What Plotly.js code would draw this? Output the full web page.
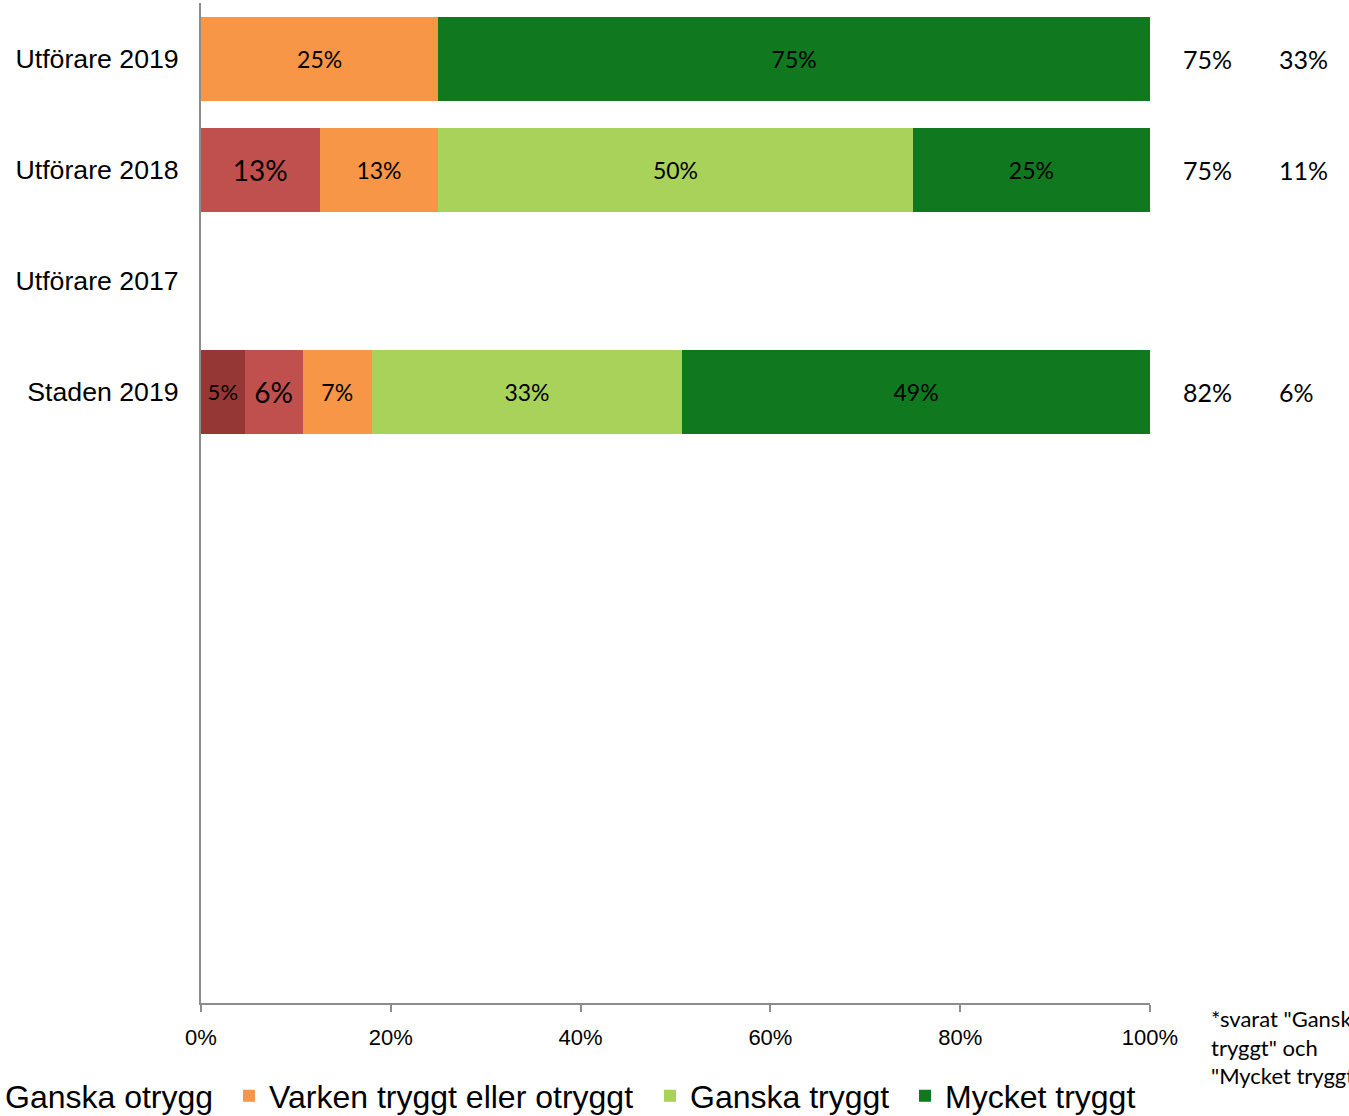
<!DOCTYPE html>
<html>
<head>
<meta charset="utf-8">
<script src="https://cdn.plot.ly/plotly-3.0.1.min.js"></script>
<style>html,body{margin:0;padding:0;background:#fff;}#chart{width:1349px;height:1116px;}</style>
</head>
<body>
<div id="chart"></div>
<script>
// ---- data ----
const categories = ['Utförare 2019', 'Utförare 2018', 'Utförare 2017', 'Staden 2019'];
const seriesNames = ['Mycket otrygg', 'Ganska otrygg', 'Varken tryggt eller otryggt', 'Ganska tryggt', 'Mycket tryggt'];
const mycketOtrygg = [null, null, null, 4.6];
const ganskaOtrygg = [null, 12.5, null, 6.1];
const varken = [25, 12.5, null, 7.3];
const ganskaTryggt = [null, 50, null, 32.7];
const mycketTryggt = [75, 25, null, 49.3];
const andelTrygga = ['75%', '75%', null, '82%'];
const extraKolumn = ['33%', '11%', null, '6%'];
const xTickVals = [0, 20, 40, 60, 80, 100];
const xTickText = ['0%', '20%', '40%', '60%', '80%', '100%'];
const footnote = '*svarat "Ganska<br>tryggt" och<br>"Mycket tryggt"';

// ---- styles ----
const colors = ['#953735', '#C0504D', '#F79646', '#A9D25A', '#10781E'];
const labelSizes = [22, 28, 23, 23, 23];
const legendWidths = [null, 219, 376, null, null];
const legendIds = ['legend', 'legend', 'legend', 'legend', 'legend2'];
const seriesValues = [mycketOtrygg, ganskaOtrygg, varken, ganskaTryggt, mycketTryggt];
const barFont = 'Lato, "Open Sans", sans-serif';
const arial = '"Liberation Sans", Arial, sans-serif';

const traces = seriesValues.map((vals, i) => {
  const t = {
    type: 'bar',
    orientation: 'h',
    name: seriesNames[i],
    y: categories,
    x: vals,
    marker: {color: colors[i], line: {width: 0}},
    texttemplate: '%{x:.0f}%',
    textposition: 'inside',
    insidetextanchor: 'middle',
    constraintext: 'none',
    textangle: 0,
    textfont: {family: barFont, size: labelSizes[i], color: '#000'},
    hoverinfo: 'name+x',
    legend: legendIds[i],
    showlegend: i !== 0
  };
  if (legendWidths[i]) t.legendwidth = legendWidths[i];
  return t;
});

const annotations = [];
categories.forEach((c, i) => {
  if (andelTrygga[i]) annotations.push({
    xref: 'paper', yref: 'y', x: (1181 - 201) / 949, y: c, xanchor: 'left', yanchor: 'middle',
    text: andelTrygga[i], showarrow: false, font: {family: barFont, size: 25, color: '#000'}
  });
  if (extraKolumn[i]) annotations.push({
    xref: 'paper', yref: 'y', x: (1277 - 201) / 949, y: c, xanchor: 'left', yanchor: 'middle',
    text: extraKolumn[i], showarrow: false, font: {family: barFont, size: 25, color: '#000'}
  });
});
annotations.push({
  xref: 'paper', yref: 'paper', x: (1209 - 201) / 949, y: 0, xanchor: 'left', yanchor: 'top',
  align: 'left', text: footnote, showarrow: false, font: {family: barFont, size: 22, color: '#000'}
});

const legendStyle = {
  orientation: 'h', traceorder: 'normal',
  xanchor: 'left', y: -0.093, yanchor: 'middle',
  bgcolor: 'rgba(0,0,0,0)', borderwidth: 0,
  font: {family: arial, size: 32, color: '#000'}
};

const layout = {
  width: 1349, height: 1116,
  margin: {l: 201, r: 199, t: 3, b: 113, autoexpand: false},
  paper_bgcolor: '#fff', plot_bgcolor: '#fff',
  barmode: 'stack',
  bargap: 0.245,
  font: {family: arial, color: '#000'},
  xaxis: {
    range: [0, 100], tickvals: xTickVals, ticktext: xTickText,
    showgrid: false, zeroline: false,
    showline: true, linecolor: '#8C8C8C', linewidth: 2,
    ticks: 'outside', ticklen: 7, tickwidth: 2, tickcolor: '#8C8C8C',
    ticklabelstandoff: 7,
    tickfont: {family: arial, size: 22, color: '#000'}
  },
  yaxis: {
    type: 'category', categoryorder: 'array', categoryarray: categories,
    range: [8.5, -0.5],
    showgrid: false, zeroline: false,
    showline: true, linecolor: '#8C8C8C', linewidth: 2,
    ticks: '', ticklabelstandoff: 15,
    tickfont: {family: arial, size: 26.7, color: '#000'}
  },
  showlegend: true,
  legend: Object.assign({}, legendStyle, {x: (-35 - 201) / 949}),
  legend2: Object.assign({}, legendStyle, {x: (905 - 201) / 949}),
  annotations: annotations
};

Plotly.newPlot('chart', traces, layout, {displayModeBar: false, responsive: false});
</script>
</body>
</html>
